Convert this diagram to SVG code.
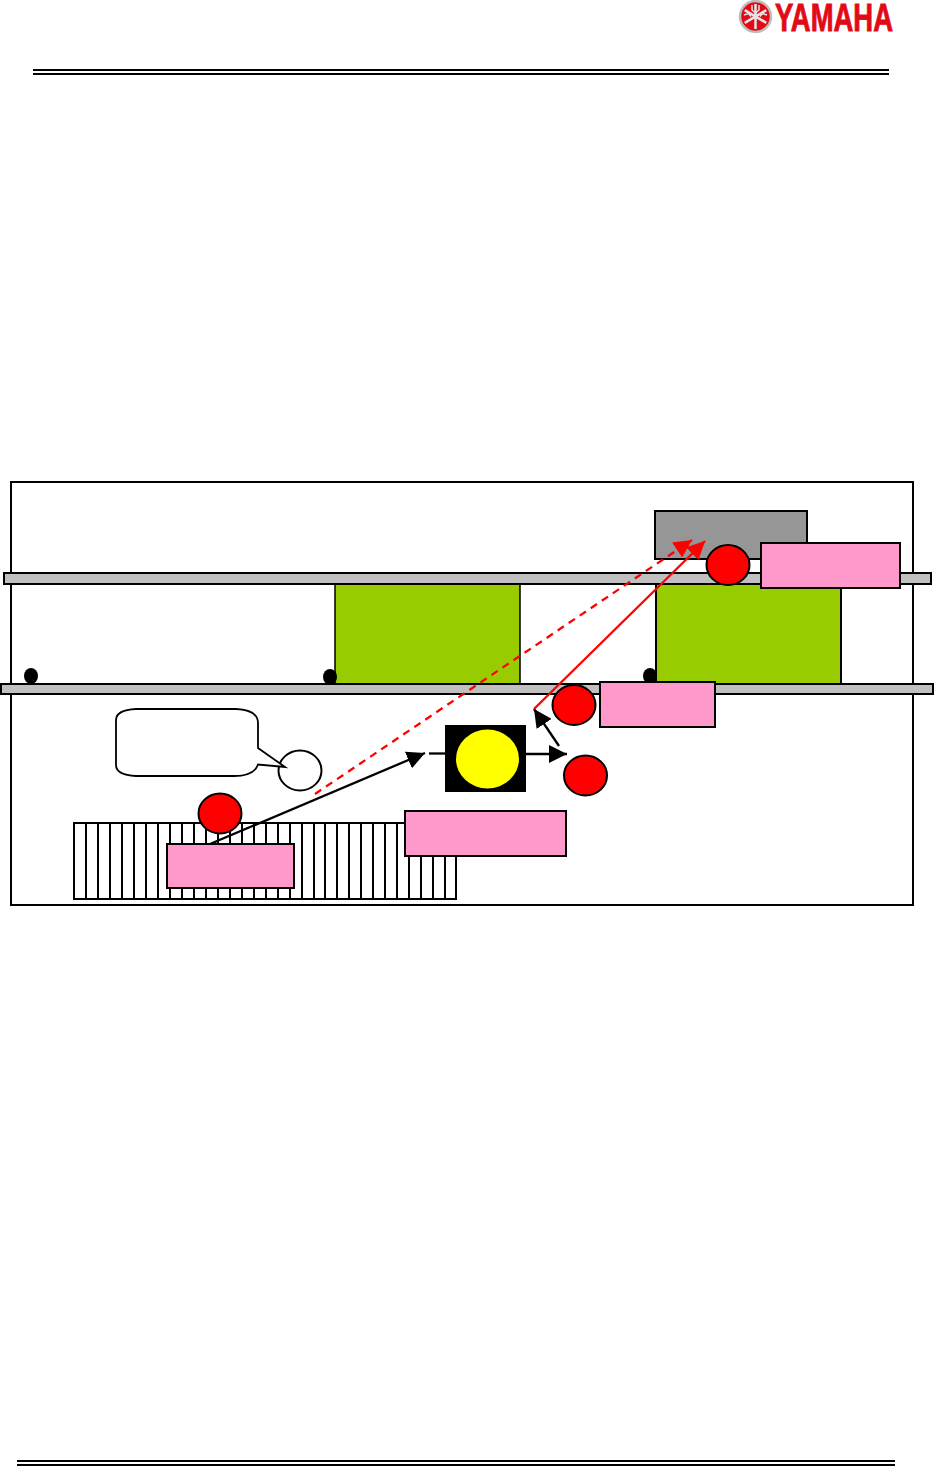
<svg xmlns="http://www.w3.org/2000/svg" width="934" height="1466" viewBox="0 0 934 1466">
<style>
.k{stroke:#000;stroke-width:2}
.rail{fill:#c0c0c0;stroke:#000;stroke-width:2}
.green{fill:#99cc00;stroke:#000;stroke-width:2}
.pink{fill:#ff99cc;stroke:#000;stroke-width:2}
.red{fill:#ff0000;stroke:#000;stroke-width:2}
.dot{fill:#000}
.hatch line{stroke:#000;stroke-width:2}
.conn{fill:none;stroke-width:2.300}
</style>
<defs>
<marker id="ah" markerUnits="userSpaceOnUse" markerWidth="19" markerHeight="18" refX="18" refY="9" orient="auto"><path d="M0 0L18 9L0 18Z" fill="#000"/></marker>
<marker id="ar" markerUnits="userSpaceOnUse" markerWidth="19" markerHeight="18" refX="18" refY="9" orient="auto"><path d="M0 0L18 9L0 18Z" fill="#ff0000"/></marker>
</defs>
<rect width="934" height="1466" fill="#fff"/>
<g id="header">
<rect x="33" y="69" width="856" height="2" fill="#000"/>
<rect x="33" y="73" width="856" height="2" fill="#000"/>
</g>
<g id="logo">
<circle cx="755.500" cy="16.500" r="15.500" fill="#e30a17" stroke="#bdbdbd" stroke-width="2.500"/>
<g stroke="#e4e4e4" stroke-width="2.500" fill="none"><path d="M755.500 4V29M744.700 10.200L766.300 22.800M744.700 22.800L766.300 10.200"/><path d="M752 5V10L755.500 13L759 10V5M744 15L748.500 13.500L751 16.500M767 15L762.500 13.500L760 16.500" stroke-width="1.500"/></g>
<circle cx="755.500" cy="16.500" r="2.500" fill="#e4e4e4"/>
<text x="775" y="31" font-family="Liberation Sans, Arial, sans-serif" font-size="39" font-weight="700" fill="#e30a17" stroke="#e30a17" stroke-width="0.900" textLength="118" lengthAdjust="spacingAndGlyphs">YAMAHA</text>
</g>
<g id="footer">
<rect x="17" y="1460" width="878" height="2" fill="#000"/>
<rect x="17" y="1464" width="878" height="2" fill="#000"/>
</g>
<g id="frame"><rect x="11" y="482" width="902" height="423" fill="#fff" stroke="#000" stroke-width="2"/></g>
<g id="machine-gray"><rect x="655" y="511" width="152" height="48" fill="#969696" stroke="#000" stroke-width="2"/></g>
<g id="green-left"><rect class="green" x="335" y="584" width="185" height="100" style="stroke-width:1.500"/></g>
<g id="green-right"><rect class="green" x="656" y="584" width="185" height="100"/></g>
<g id="dot-1"><ellipse class="dot" cx="31" cy="676" rx="7" ry="8"/></g>
<g id="dot-2"><ellipse class="dot" cx="330" cy="677" rx="7" ry="8"/></g>
<g id="dot-3"><ellipse class="dot" cx="650" cy="676" rx="7" ry="8"/></g>
<g id="rail-top"><rect class="rail" x="4" y="573" width="927" height="11"/></g>
<g id="rail-bottom"><rect class="rail" x="1" y="684" width="932" height="10"/></g>
<g id="hatch" class="hatch">
<rect x="74" y="823" width="382" height="76" fill="#fff" stroke="#000" stroke-width="2"/>
<line x1="86" y1="823" x2="86" y2="899"/><line x1="98" y1="823" x2="98" y2="899"/><line x1="110" y1="823" x2="110" y2="899"/><line x1="122" y1="823" x2="122" y2="899"/><line x1="134" y1="823" x2="134" y2="899"/><line x1="146" y1="823" x2="146" y2="899"/><line x1="158" y1="823" x2="158" y2="899"/><line x1="170" y1="823" x2="170" y2="899"/><line x1="182" y1="823" x2="182" y2="899"/><line x1="194" y1="823" x2="194" y2="899"/><line x1="206" y1="823" x2="206" y2="899"/><line x1="218" y1="823" x2="218" y2="899"/><line x1="230" y1="823" x2="230" y2="899"/><line x1="242" y1="823" x2="242" y2="899"/><line x1="254" y1="823" x2="254" y2="899"/><line x1="266" y1="823" x2="266" y2="899"/><line x1="278" y1="823" x2="278" y2="899"/><line x1="290" y1="823" x2="290" y2="899"/><line x1="302" y1="823" x2="302" y2="899"/><line x1="314" y1="823" x2="314" y2="899"/><line x1="325" y1="823" x2="325" y2="899"/><line x1="337" y1="823" x2="337" y2="899"/><line x1="349" y1="823" x2="349" y2="899"/><line x1="361" y1="823" x2="361" y2="899"/><line x1="373" y1="823" x2="373" y2="899"/><line x1="385" y1="823" x2="385" y2="899"/><line x1="397" y1="823" x2="397" y2="899"/><line x1="409" y1="823" x2="409" y2="899"/><line x1="421" y1="823" x2="421" y2="899"/><line x1="433" y1="823" x2="433" y2="899"/><line x1="445" y1="823" x2="445" y2="899"/>
</g>
<g id="lamp"><rect x="445" y="725" width="81" height="67" fill="#000"/><ellipse cx="487.500" cy="759" rx="31.500" ry="29.500" fill="#ffff00"/></g>
<g id="callout">
<ellipse cx="300" cy="770.500" rx="21.500" ry="20" fill="#fff" stroke="#000" stroke-width="2"/>
<path d="M136 709H236Q258 710 258 723V748L285 767L258 764.500Q254 776 234 776H136Q116 775 116 765V720Q116 710 136 709Z" fill="#fff" stroke="#000" stroke-width="1.800"/>
</g>
<g id="connectors">
<line class="conn" x1="210" y1="844" x2="425" y2="753" stroke="#000" marker-end="url(#ah)"/>
<line class="conn" x1="429" y1="753.500" x2="445" y2="753.500" stroke="#000"/>
<line class="conn" x1="526" y1="754" x2="567" y2="754" stroke="#000" marker-end="url(#ah)"/>
<line class="conn" x1="559" y1="746" x2="534" y2="709" stroke="#000" marker-end="url(#ah)"/>
<line class="conn" x1="534" y1="709" x2="705" y2="541" stroke="#ff0000" marker-end="url(#ar)"/>
<line class="conn" x1="315" y1="794" x2="692" y2="540" stroke="#ff0000" stroke-dasharray="7.500 5.800" marker-end="url(#ar)"/>
</g>
<g id="pink-1"><rect class="pink" x="761" y="543" width="139" height="45"/></g>
<g id="pink-2"><rect class="pink" x="600" y="682" width="115" height="45"/></g>
<g id="pink-3"><rect class="pink" x="405" y="811" width="161" height="45"/></g>
<g id="pink-4"><rect class="pink" x="167" y="844" width="127" height="44"/></g>
<g id="red-1"><ellipse class="red" cx="728" cy="565" rx="21.500" ry="20"/></g>
<g id="red-2"><ellipse class="red" cx="574" cy="705" rx="21.500" ry="20"/></g>
<g id="red-3"><ellipse class="red" cx="585.500" cy="775.500" rx="21.500" ry="20"/></g>
<g id="red-4"><ellipse class="red" cx="220" cy="813.500" rx="21.500" ry="20"/></g>
</svg>
